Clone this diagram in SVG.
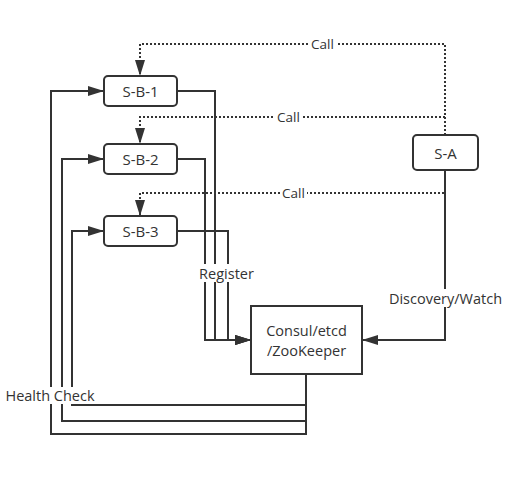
<svg xmlns="http://www.w3.org/2000/svg" width="525" height="488" viewBox="0 0 525 488">
<style>
.box{fill:#fff;stroke:#333;stroke-width:2}
.ln{fill:none;stroke:#333;stroke-width:2}
.dot{fill:none;stroke:#333;stroke-width:2;stroke-dasharray:2 2}
.t{font-family:"Open Sans","DejaVu Sans",sans-serif;font-size:15px;fill:#333;text-anchor:middle;dominant-baseline:central}
.t2{font-family:"Open Sans","DejaVu Sans",sans-serif;font-size:14.5px;fill:#333;text-anchor:middle;dominant-baseline:central}
.lb{font-family:"Open Sans","DejaVu Sans",sans-serif;font-size:14.5px;fill:#333;text-anchor:middle;dominant-baseline:central}
.cl{font-family:"Open Sans","DejaVu Sans",sans-serif;font-size:13.5px;fill:#333;text-anchor:middle;dominant-baseline:central}
.bg{fill:#fff}
</style>
<defs>
<marker id="arr" markerUnits="userSpaceOnUse" viewBox="0 0 16 10" refX="16" refY="5" markerWidth="16" markerHeight="10" orient="auto">
<path d="M0,0 L16,5 L0,10 z" fill="#333"/>
</marker>
</defs>
<rect width="525" height="488" fill="#fff"/>
<g id="connectors">
<path class="ln" d="M177,91 H215 V340 H251" marker-end="url(#arr)"/>
<path class="ln" d="M177,159 H205 V340 H251" marker-end="url(#arr)"/>
<path class="ln" d="M177,231 H228 V340 H251" marker-end="url(#arr)"/>
<path class="ln" d="M445,170 V340 H362" marker-end="url(#arr)"/>
<path class="ln" d="M306,374 V434 H51 V91 H104" marker-end="url(#arr)"/>
<path class="ln" d="M306,421 H62 V159 H104" marker-end="url(#arr)"/>
<path class="ln" d="M306,405 H72 V231 H104" marker-end="url(#arr)"/>
<path class="dot" d="M445,135 V44 H140 V76" marker-end="url(#arr)"/>
<path class="dot" d="M445,117 H140 V144" marker-end="url(#arr)"/>
<path class="dot" d="M445,170 V193 H140 V216" marker-end="url(#arr)"/>
<rect class="bg" x="309" y="37" width="27" height="14"/>
<text class="cl" x="322.5" y="44">Call</text>
<rect class="bg" x="275" y="110" width="27" height="14"/>
<text class="cl" x="288.5" y="117">Call</text>
<rect class="bg" x="280" y="186" width="27" height="14"/>
<text class="cl" x="293.5" y="193">Call</text>
<rect class="bg" x="198" y="264" width="58" height="18"/>
<text class="lb" x="226.5" y="273">Register</text>
<rect class="bg" x="387" y="289" width="117" height="18"/>
<text class="lb" x="445.5" y="298">Discovery/Watch</text>
<rect class="bg" x="4" y="387" width="93" height="17"/>
<text class="lb" x="50" y="395.5">Health Check</text>
</g>
<g id="S-B-1"><rect class="box" x="104" y="76" width="73" height="30" rx="4"/><text class="t" x="140.5" y="91">S-B-1</text></g>
<g id="S-B-2"><rect class="box" x="104" y="144" width="73" height="30" rx="4"/><text class="t" x="140.5" y="159">S-B-2</text></g>
<g id="S-B-3"><rect class="box" x="104" y="216" width="73" height="30" rx="4"/><text class="t" x="140.5" y="231">S-B-3</text></g>
<g id="S-A"><rect class="box" x="413" y="135" width="65" height="35" rx="4"/><text class="t" x="445.5" y="152.5">S-A</text></g>
<g id="Consul"><rect class="box" x="251" y="306" width="111" height="68"/><text class="t2" x="306.5" y="330">Consul/etcd</text><text class="t2" x="306.5" y="350">/ZooKeeper</text></g>
</svg>
